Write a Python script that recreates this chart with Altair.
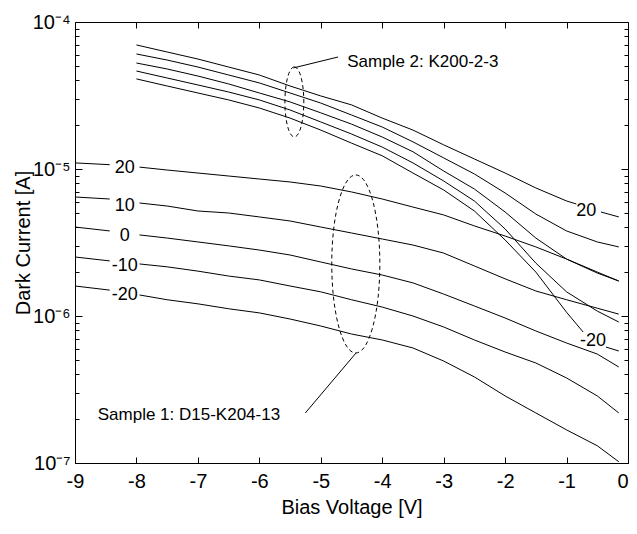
import altair as alt
import pandas as pd

# ---------------- data ----------------
# Sample 1: D15-K204-13 (curves start at -9 V); the first two points sit left of the inline labels
S1_X = [-9.0, -8.435, -7.95, -7.5, -7.0, -6.5, -6.0, -5.5, -5.0, -4.5, -4.0,
        -3.5, -3.0, -2.5, -2.0, -1.5, -1.0, -0.5, -0.15]
S1_20 = [1.10e-5, 1.07e-5, 1.03e-5, 9.84e-6, 9.39e-6, 8.96e-6, 8.55e-6, 8.16e-6, 7.66e-6, 6.98e-6,
         6.25e-6, 5.51e-6, 4.87e-6, 4.10e-6, 3.50e-6, 2.95e-6, 2.44e-6, 1.99e-6, 1.73e-6]
S1_10 = [6.45e-6, 6.25e-6, 5.87e-6, 5.60e-6, 5.18e-6, 5.02e-6, 4.72e-6, 4.43e-6, 4.03e-6, 3.67e-6,
         3.34e-6, 3.04e-6, 2.68e-6, 2.19e-6, 1.79e-6, 1.48e-6, 1.29e-6, 1.13e-6, 1.03e-6]
S1_0 = [4.03e-6, 3.79e-6, 3.56e-6, 3.39e-6, 3.19e-6, 3.00e-6, 2.81e-6, 2.60e-6, 2.33e-6, 2.09e-6,
        1.90e-6, 1.68e-6, 1.41e-6, 1.17e-6, 9.69e-7, 7.91e-7, 6.55e-7, 5.51e-7, 4.50e-7]
S1_M10 = [2.52e-6, 2.37e-6, 2.26e-6, 2.16e-6, 2.02e-6, 1.87e-6, 1.76e-6, 1.60e-6, 1.46e-6, 1.29e-6,
          1.15e-6, 1.00e-6, 8.42e-7, 6.87e-7, 5.69e-7, 4.79e-7, 3.79e-7, 2.86e-7, 2.19e-7]
S1_M20 = [1.60e-6, 1.50e-6, 1.39e-6, 1.29e-6, 1.21e-6, 1.12e-6, 1.05e-6, 9.54e-7, 8.55e-7, 7.54e-7,
          6.87e-7, 6.06e-7, 4.94e-7, 3.85e-7, 2.86e-7, 2.19e-7, 1.68e-7, 1.31e-7, 1.02e-7]
S1_TEMPS = ["20", "10", "0", "-10", "-20"]
S1_SERIES = [S1_20, S1_10, S1_0, S1_M10, S1_M20]
S1_BREAK = 2  # points before the inline label gap

# Sample 2: K200-2-3 (curves start at -8 V)
S2_X = [-8.0, -7.5, -7.0, -6.5, -6.0, -5.5, -5.0, -4.5, -4.0, -3.5, -3.0,
        -2.5, -2.0, -1.5, -1.0, -0.5, -0.15]
S2_10 = [6.06e-5, 5.51e-5, 4.94e-5, 4.36e-5, 3.85e-5, 3.29e-5, 2.81e-5, 2.33e-5, 1.93e-5,
         1.53e-5, 1.19e-5, 9.25e-6, 6.87e-6, 4.94e-6, 3.79e-6, 3.19e-6, 2.95e-6]
S2_0 = [5.26e-5, 4.79e-5, 4.29e-5, 3.79e-5, 3.29e-5, 2.86e-5, 2.41e-5, 2.02e-5, 1.65e-5,
        1.31e-5, 9.69e-6, 7.31e-6, 5.10e-6, 3.39e-6, 2.44e-6, 1.96e-6, 1.73e-6]
S2_M10 = [4.64e-5, 4.16e-5, 3.73e-5, 3.34e-5, 2.95e-5, 2.52e-5, 2.09e-5, 1.73e-5, 1.41e-5,
          1.10e-5, 8.29e-6, 6.06e-6, 3.91e-6, 2.29e-6, 1.46e-6, 1.08e-6, 9.10e-7]
# the two labelled curves (gap around their end labels)
S2_20_X = [-8.0, -7.5, -7.0, -6.5, -6.0, -5.5, -5.0, -4.5, -4.0, -3.5, -3.0,
           -2.5, -2.0, -1.5, -1.0, -0.84, -0.44, -0.15]
S2_20 = [6.98e-5, 6.25e-5, 5.60e-5, 4.94e-5, 4.36e-5, 3.67e-5, 3.14e-5, 2.73e-5, 2.22e-5,
         1.84e-5, 1.46e-5, 1.17e-5, 9.39e-6, 7.43e-6, 6.06e-6, 5.78e-6, 5.10e-6, 4.72e-6]
S2_M20_X = [-8.0, -7.5, -7.0, -6.5, -6.0, -5.5, -5.0, -4.5, -4.0, -3.5, -3.0,
            -2.5, -2.0, -1.5, -1.0, -0.73, -0.36, -0.15]
S2_M20 = [4.10e-5, 3.67e-5, 3.29e-5, 2.95e-5, 2.60e-5, 2.22e-5, 1.84e-5, 1.50e-5, 1.23e-5,
          9.39e-6, 7.20e-6, 5.18e-6, 3.29e-6, 1.99e-6, 1.06e-6, 7.78e-7, 6.15e-7, 5.78e-7]
S2_BREAK = 16

# inline curve labels
S1_LABEL_X = -8.19
S1_LABEL_Y = [1.02e-5, 5.60e-6, 3.50e-6, 2.19e-6, 1.39e-6]
S2_LABELS = ["20", "-20"]
S2_LABEL_X = [-0.68, -0.57]
S2_LABEL_Y = [5.18e-6, 6.76e-7]

# annotations
NOTE_TEXT = ["Sample 2: K200-2-3", "Sample 1: D15-K204-13"]
NOTE_X = [-4.57, -8.63]
NOTE_Y = [5.35e-5, 2.12e-7]
ELL_X = [-5.43, -4.43]
ELL_Y = [2.86e-5, 2.26e-6]
LEAD_X = [-5.445, -4.427]
LEAD_Y = [4.87e-5, 5.60e-7]
LEAD_X2 = [-4.718, -5.251]
LEAD_Y2 = [5.78e-5, 2.19e-7]

X_TICKS = [-9, -8, -7, -6, -5, -4, -3, -2, -1, 0]
Y_MAJOR = [1e-7, 1e-6, 1e-5, 1e-4]
Y_MINOR = [m * 10.0 ** e for e in (-7, -6, -5) for m in range(2, 10)]

# ---------------- tables ----------------
rows1 = []
for t, ys in zip(S1_TEMPS, S1_SERIES):
    for i, (x, y) in enumerate(zip(S1_X, ys)):
        rows1.append({"x": x, "y": y, "key": f"s1_{t}_{'a' if i < S1_BREAK else 'b'}"})
df1 = pd.DataFrame(rows1)

rows2 = []
for t, xs_, ys_, brk in [("20", S2_20_X, S2_20, S2_BREAK), ("10", S2_X, S2_10, None),
                         ("0", S2_X, S2_0, None), ("-10", S2_X, S2_M10, None),
                         ("-20", S2_M20_X, S2_M20, S2_BREAK)]:
    for i, (x, y) in enumerate(zip(xs_, ys_)):
        part = "a" if (brk is None or i < brk) else "b"
        rows2.append({"x": x, "y": y, "key": f"s2_{t}_{part}"})
df2 = pd.DataFrame(rows2)

lab1 = pd.DataFrame({"x": [S1_LABEL_X] * 5, "y": S1_LABEL_Y, "label": S1_TEMPS})
lab2 = pd.DataFrame({"x": S2_LABEL_X, "y": S2_LABEL_Y, "label": S2_LABELS})
notes = pd.DataFrame({"x": NOTE_X, "y": NOTE_Y, "label": NOTE_TEXT})
ell = pd.DataFrame({"x": ELL_X, "y": ELL_Y})
lead = pd.DataFrame({"x": LEAD_X, "y": LEAD_Y, "x2": LEAD_X2, "y2": LEAD_Y2})

# ---------------- chart ----------------
FONT = "Liberation Sans"
SUP = "['\u2070','\u00b9','\u00b2','\u00b3','\u2074','\u2075','\u2076','\u2077','\u2078','\u2079']"
YLAB = f"'10\u207b' + {SUP}[abs(round(log(datum.value)/LN10))]"

W, H = 553, 441
xs = alt.Scale(domain=[-9, 0], nice=False, zero=False)
ys = alt.Scale(type="log", domain=[1e-7, 1e-4], nice=False)

# inward ticks: each axis is pulled inside the frame by its own tick length
x_bottom = alt.Axis(orient="bottom", values=X_TICKS, tickSize=6, offset=-6, labelPadding=8,
                    labelExpr="'' + datum.value", labelFlush=False, labelOverlap=False,
                    labelAlign={"condition": {"test": "datum.value == 0", "value": "right"},
                                "value": "center"},
                    labelFontSize=20, title="Bias Voltage [V]", titleFontSize=20,
                    titleX=W / 2, titleY=56, titleBaseline="alphabetic")
y_left = alt.Axis(orient="left", values=Y_MAJOR, tickSize=7, offset=-7, labelPadding=5,
                  labelExpr=YLAB, labelOverlap=False, labelFlush=False, labelBound=False,
                  labelFontSize=20, labelBaseline="middle",
                  title="Dark Current [A]", titleFontSize=20,
                  titleX=-53, titleY=H / 2, titleBaseline="alphabetic", titleAngle=-90,
                  titleAlign="center")
x_top = alt.Axis(orient="top", values=X_TICKS, tickSize=6, offset=-6, labels=False, title=None)
y_right = alt.Axis(orient="right", values=Y_MAJOR, tickSize=7, offset=-7, labels=False, title=None)
y_left_minor = alt.Axis(orient="left", values=Y_MINOR, tickSize=4, offset=-4, labels=False, title=None)
y_right_minor = alt.Axis(orient="right", values=Y_MINOR, tickSize=4, offset=-4, labels=False, title=None)

lines1 = alt.Chart(df1).mark_line(color="black", strokeWidth=1).encode(
    x=alt.X("x:Q", scale=xs, axis=x_bottom),
    y=alt.Y("y:Q", scale=ys, axis=y_left),
    detail="key:N",
)
lines2 = alt.Chart(df2).mark_line(color="black", strokeWidth=1).encode(
    x=alt.X("x:Q", scale=xs, axis=x_top),
    y=alt.Y("y:Q", scale=ys, axis=y_right),
    detail="key:N",
)
labels1 = alt.Chart(lab1).mark_text(font=FONT, fontSize=18, color="black",
                                    align="center", baseline="middle").encode(
    x=alt.X("x:Q", axis=None), y=alt.Y("y:Q", axis=y_left_minor), text="label:N")
labels2 = alt.Chart(lab2).mark_text(font=FONT, fontSize=18, color="black",
                                    align="center", baseline="middle").encode(
    x=alt.X("x:Q", axis=None), y=alt.Y("y:Q", axis=y_right_minor), text="label:N")
note_txt = alt.Chart(notes).mark_text(font=FONT, fontSize=17, color="black",
                                      align="left", baseline="middle").encode(
    x=alt.X("x:Q", axis=None), y=alt.Y("y:Q", axis=None), text="label:N")
ELLIPSE = "M 0 -1 A 0.27 1 0 1 1 0 1 A 0.27 1 0 1 1 0 -1 Z"
ell2 = alt.Chart(ell.iloc[[0]]).mark_point(shape=ELLIPSE, size=4900, filled=False, color="black",
                                          strokeWidth=1, strokeDash=[4, 3], opacity=1).encode(
    x=alt.X("x:Q", axis=None), y=alt.Y("y:Q", axis=None))
ell1 = alt.Chart(ell.iloc[[1]]).mark_point(shape=ELLIPSE, size=31684, filled=False, color="black",
                                          strokeWidth=1, strokeDash=[4, 3], opacity=1).encode(
    x=alt.X("x:Q", axis=None), y=alt.Y("y:Q", axis=None))
leaders = alt.Chart(lead).mark_rule(color="black", strokeWidth=1).encode(
    x=alt.X("x:Q", axis=None), y=alt.Y("y:Q", axis=None), x2="x2:Q", y2="y2:Q")

chart = alt.layer(lines1, lines2, labels1, labels2, note_txt, ell2, ell1, leaders).resolve_axis(
    x="independent", y="independent"
).properties(
    width=W, height=H,
    autosize=alt.AutoSizeParams(type="none"),
    padding={"left": 67, "top": 14, "right": 1, "bottom": 61},
    background="white",
).configure_axis(
    labelFont=FONT, titleFont=FONT, labelColor="black", titleColor="black",
    titleFontWeight="normal", domain=False, grid=False,
    tickColor="black", tickWidth=1,
).configure_view(stroke="black", strokeWidth=1)

chart.save("out.html", embed_options={"renderer": "svg", "actions": False})
